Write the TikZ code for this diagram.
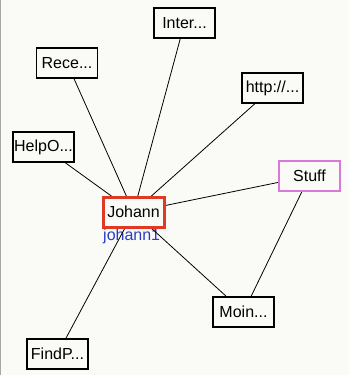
\documentclass[tikz,border=0pt]{standalone}
\usepackage{fontspec}
\setmainfont{Liberation Sans}
\pgfdeclarelayer{bottom}
\pgfdeclarelayer{edges}
\pgfsetlayers{bottom,edges,main}
\definecolor{bg}{HTML}{FAFAF6}
\definecolor{jred}{HTML}{E03A24}
\definecolor{smag}{HTML}{D878D8}
\definecolor{lblue}{HTML}{2A3CC4}
\tikzset{
  x=1pt, y=-1pt,
  pagebox/.style={draw=black, line width=1.1pt, fill=bg, minimum width=61pt, minimum height=30pt, inner sep=0pt, font=\fontsize{16}{17}\selectfont},
  centerbox/.style={pagebox, draw=jred, line width=3pt},
  tagbox/.style={pagebox, draw=smag, line width=1.4pt},
  link/.style={draw=black, line width=0.8pt},
  userlabel/.style={text=lblue, inner sep=0pt, font=\fontsize{16}{17}\selectfont}
}
\begin{document}
\begin{tikzpicture}
\useasboundingbox (0,0) rectangle (349,375);
\node[pagebox] (inter) at (184.5,23) {Inter...};
\node[pagebox] (rece) at (67,63) {Rece...};
\node[pagebox] (http) at (272.5,88) {http://...};
\node[pagebox] (help) at (43.5,147) {HelpO...};
\node[tagbox] (stuff) at (309.5,176) {Stuff};
\node[centerbox] (johann) at (133.5,212) {Johann};
\node[pagebox] (moin) at (243.5,312) {Moin...};
\node[pagebox] (findp) at (57.5,354) {FindP...};
\begin{pgfonlayer}{bottom}
  \fill[bg] (0,0) rectangle (349,375);
  \draw[draw=gray!70, line width=1.2pt] (0.6,0) -- (0.6,375);
  \node[userlabel, anchor=west] (jlabel) at (103,236) {johann1};
\end{pgfonlayer}
\begin{pgfonlayer}{edges}
  \draw[link] (johann.center) -- (inter.center);
  \draw[link] (johann.center) -- (rece.center);
  \draw[link] (johann.center) -- (http.center);
  \draw[link] (johann.center) -- (help.center);
  \draw[link] (johann.center) -- (stuff.center);
  \draw[link] (johann.center) -- (moin.center);
  \draw[link] (johann.center) -- (findp.center);
  \draw[link] (moin.center) -- (stuff.center);
\end{pgfonlayer}
\end{tikzpicture}
\end{document}
